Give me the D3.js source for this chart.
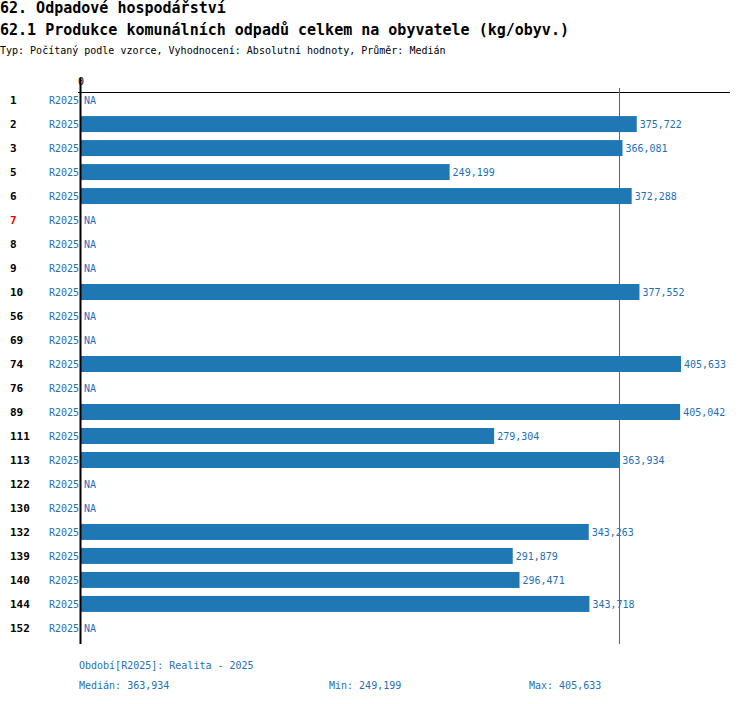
<!DOCTYPE html>
<html><head><meta charset="utf-8">
<script src="https://cdn.jsdelivr.net/npm/d3@7"></script>
<style>body{margin:0;background:#fff}text{font-family:"DejaVu Sans Mono",monospace}</style>
</head><body><svg id="c" width="750" height="704"></svg>
<script>
var categories = ["1","2","3","5","6","7","8","9","10","56","69","74","76","89","111","113","122","130","132","139","140","144","152"];
var values = [null,375722,366081,249199,372288,null,null,null,377552,null,null,405633,null,405042,279304,363934,null,null,343263,291879,296471,343718,null];
var redCats = ["7"];
var period = "R2025";
var median = 363934, minV = 249199, maxV = 405633;
var blue = "#1f77b4", txtBlue = "#1f6fb4";
var fmt = function (v) { return d3.format(",.0f")(v).replace(/,/g, " ").replace(/ (\d{3})$/, ",$1").replace(/ /g, ""); };
function fmtNum(v) { var s = String(v); return s.slice(0, s.length - 3) + "," + s.slice(-3); }

var svg = d3.select("#c");
var x = d3.scaleLinear().domain([0, maxV]).range([81, 681]);
var y = d3.scaleBand().domain(categories).range([88, 640]).paddingInner(0.333).paddingOuter(0.17);

svg.append("text").attr("x", 0).attr("y", 13).attr("font-size", 15).attr("font-weight", "bold").text("62. Odpadové hospodářství");
svg.append("text").attr("x", 0).attr("y", 35).attr("font-size", 15).attr("font-weight", "bold").text("62.1 Produkce komunálních odpadů celkem na obyvatele (kg/obyv.)");
svg.append("text").attr("x", 0).attr("y", 54).attr("font-size", 10).text("Typ: Počítaný podle vzorce, Vyhodnocení: Absolutní hodnoty, Průměr: Medián");

svg.append("text").attr("x", 81).attr("y", 85).attr("font-size", 10).attr("text-anchor", "middle").text("0");
svg.append("line").attr("x1", 78).attr("x2", 730).attr("y1", 92.5).attr("y2", 92.5).attr("stroke", "#000");

var rows = svg.selectAll(".row").data(categories).enter().append("g");
rows.append("text").attr("x", 10).attr("y", function (d) { return y(d) + y.bandwidth() / 2 + 4; })
  .attr("font-size", 11).attr("font-weight", "bold")
  .attr("fill", function (d) { return redCats.indexOf(d) >= 0 ? "#e00" : "#000"; }).text(function (d) { return d; });
rows.append("text").attr("x", 79).attr("y", function (d) { return y(d) + y.bandwidth() / 2 + 4; })
  .attr("font-size", 10).attr("text-anchor", "end").attr("fill", txtBlue).text(period);
rows.each(function (d, i) {
  var g = d3.select(this), v = values[i], cy = y(d) + y.bandwidth() / 2 + 4;
  if (v == null) {
    g.append("text").attr("x", 84).attr("y", cy).attr("font-size", 10).attr("fill", txtBlue).text("NA");
  } else {
    g.append("rect").attr("x", x(0)).attr("y", y(d)).attr("width", x(v) - x(0)).attr("height", y.bandwidth()).attr("fill", blue);
    g.append("text").attr("x", x(v) + 3).attr("y", cy).attr("font-size", 10).attr("fill", txtBlue).text(fmtNum(v));
  }
});

svg.append("line").attr("x1", Math.round(x(median)) + 0.5).attr("x2", Math.round(x(median)) + 0.5).attr("y1", 88).attr("y2", 644).attr("stroke", blue);
svg.append("line").attr("x1", 80.5).attr("x2", 80.5).attr("y1", 78).attr("y2", 644).attr("stroke", "#000").attr("stroke-width", 2);

svg.append("text").attr("x", 79).attr("y", 669).attr("font-size", 10).attr("fill", txtBlue).text("Období[" + period + "]: Realita - 2025");
svg.append("text").attr("x", 79).attr("y", 689).attr("font-size", 10).attr("fill", txtBlue).text("Medián: " + fmtNum(median));
svg.append("text").attr("x", 329).attr("y", 689).attr("font-size", 10).attr("fill", txtBlue).text("Min: " + fmtNum(minV));
svg.append("text").attr("x", 529).attr("y", 689).attr("font-size", 10).attr("fill", txtBlue).text("Max: " + fmtNum(maxV));
</script></body></html>
